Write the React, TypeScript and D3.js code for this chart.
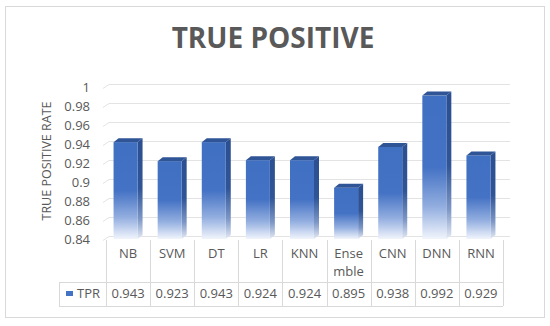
import React from "react";
import * as d3 from "d3";

const categories = ["NB", "SVM", "DT", "LR", "KNN", "Ensemble", "CNN", "DNN", "RNN"];
const categoryLines = [["NB"], ["SVM"], ["DT"], ["LR"], ["KNN"], ["Ense", "mble"], ["CNN"], ["DNN"], ["RNN"]];
const tprValues = [0.943, 0.923, 0.943, 0.924, 0.924, 0.895, 0.938, 0.992, 0.929];
const yTicks = [0.84, 0.86, 0.88, 0.9, 0.92, 0.94, 0.96, 0.98, 1];
const seriesName = "TPR";
const chartTitle = "TRUE POSITIVE";
const yTitle = "TRUE POSITIVE RATE";

const W = 550;
const H = 326;
const FONT = "'Open Sans', 'Noto Sans', sans-serif";
const TXT = "#595959";
const GRID = "#e3e3e3";
const TBL = "#d9d9d9";

export default function App() {
  const tableLeft = 106;
  const tableRight = 503;
  const floorY = 240;
  const catRowBottom = 282;
  const valRowBottom = 306;
  const legendLeft = 59;
  const depthX = 5;
  const depthY = 4;

  const x = d3.scaleBand<string>().domain(categories).range([tableLeft, tableRight]).padding(0);
  const y = d3.scaleLinear().domain([0.84, 1]).range([floorY, 88]);
  const bw = x.bandwidth();
  const frontW = 24;

  return (
    <svg width={W} height={H} style={{ position: "absolute", left: 0, top: 0, background: "#fff" }}>
      <defs>
        <linearGradient id="gFront" x1="0" y1="0" x2="0" y2="1">
          <stop offset="0" stopColor="#4070c2" />
          <stop offset="0.5" stopColor="#4472c4" />
          <stop offset="0.78" stopColor="#94afe0" />
          <stop offset="1" stopColor="#f1f5fc" />
        </linearGradient>
        <linearGradient id="gSide" x1="0" y1="0" x2="0" y2="1">
          <stop offset="0" stopColor="#2b4f90" />
          <stop offset="0.5" stopColor="#2f5597" />
          <stop offset="0.8" stopColor="#7d97c6" />
          <stop offset="1" stopColor="#e4eaf5" />
        </linearGradient>
      </defs>
      <rect x={5.5} y={6.5} width={539} height={311} fill="#fff" stroke={TBL} strokeWidth={1} />

      <text x={273} y={48} textAnchor="middle" fontFamily={FONT} fontWeight={700} fontSize={28} fill={TXT}>
        {chartTitle}
      </text>

      {/* back-wall gridlines */}
      {yTicks.map((t) => {
        const yy = Math.round(y(t)) - depthY + 0.5;
        return (
          <path
            key={"g" + t}
            d={`M${tableLeft - 3},${yy + depthY} L${tableLeft + 3},${yy} L${tableRight + 7},${yy}`}
            fill="none"
            stroke={GRID}
            strokeWidth={1}
          />
        );
      })}

      {/* y tick labels */}
      {yTicks.map((t) => (
        <text
          key={"t" + t}
          x={90}
          y={y(t) + 1}
          textAnchor="end"
          dominantBaseline="middle"
          fontFamily={FONT}
          fontSize={13}
          fill={TXT}
        >
          {d3.format("~g")(t)}
        </text>
      ))}

      <text
        transform={`translate(48, 161) rotate(-90)`}
        textAnchor="middle"
        dominantBaseline="middle"
        fontFamily={FONT}
        fontSize={12.5}
        fill={TXT}
      >
        {yTitle}
      </text>

      {/* bars */}
      {categories.map((c, i) => {
        const v = tprValues[i];
        const x0 = (x(c) as number) + (bw - frontW - depthX) / 2;
        const top = y(v);
        const bottom = floorY - 1;
        return (
          <g key={"b" + c}>
            <path
              d={`M${x0 + frontW},${top} L${x0 + frontW + depthX},${top - depthY} L${x0 + frontW + depthX},${bottom - depthY} L${x0 + frontW},${bottom} Z`}
              fill="url(#gSide)"
            />
            <rect x={x0} y={top} width={frontW} height={bottom - top} fill="url(#gFront)" />
            <path
              d={`M${x0},${top} L${x0 + depthX},${top - depthY} L${x0 + frontW + depthX},${top - depthY} L${x0 + frontW},${top} Z`}
              fill="#2f5597"
            />
          </g>
        );
      })}

      {/* data table */}
      {d3.range(categories.length + 1).map((k) => {
        const xx = Math.round(tableLeft + k * bw) + 0.5;
        return <line key={"v" + k} x1={xx} x2={xx} y1={floorY} y2={valRowBottom} stroke={TBL} strokeWidth={1} />;
      })}
      <line x1={legendLeft} x2={tableRight} y1={catRowBottom + 0.5} y2={catRowBottom + 0.5} stroke={TBL} />
      <line x1={legendLeft} x2={tableRight} y1={valRowBottom + 0.5} y2={valRowBottom + 0.5} stroke={TBL} />
      <line x1={legendLeft + 0.5} x2={legendLeft + 0.5} y1={catRowBottom} y2={valRowBottom} stroke={TBL} />

      {categories.map((c, i) => {
        const cx = (x(c) as number) + bw / 2;
        const lines = categoryLines[i];
        return lines.map((ln, j) => (
          <text
            key={"c" + c + j}
            x={cx}
            y={255 + j * 18}
            textAnchor="middle"
            dominantBaseline="middle"
            fontFamily={FONT}
            fontSize={13}
            fill={TXT}
          >
            {ln}
          </text>
        ));
      })}

      {categories.map((c, i) => (
        <text
          key={"val" + c}
          x={(x(c) as number) + bw / 2}
          y={294.5}
          textAnchor="middle"
          dominantBaseline="middle"
          fontFamily={FONT}
          fontSize={13}
          fill={TXT}
        >
          {d3.format(".3f")(tprValues[i])}
        </text>
      ))}

      <rect x={66} y={291} width={7} height={5} fill="#4472c4" />
      <text x={77} y={294.5} dominantBaseline="middle" fontFamily={FONT} fontSize={13} fill={TXT}>
        {seriesName}
      </text>
    </svg>
  );
}
